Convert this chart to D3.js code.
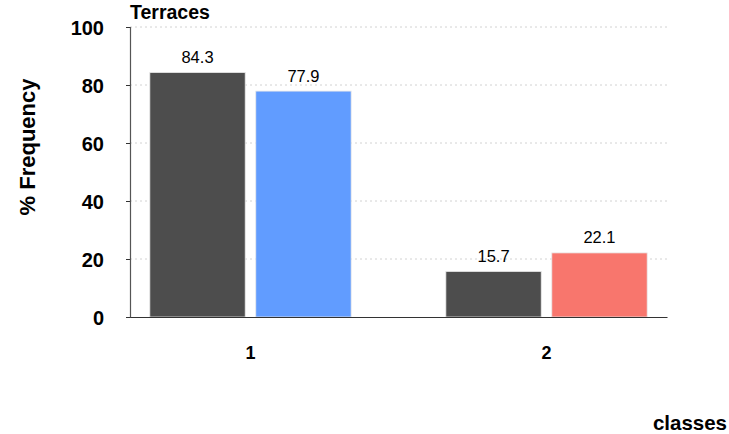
<!DOCTYPE html>
<meta charset="utf-8">
<script src="https://d3js.org/d3.v7.min.js"></script>
<style>
body { margin: 0; background: #fff; }
text { font-family: "Liberation Sans", Arial, sans-serif; }
.grid line { stroke: #d2d2d2; stroke-dasharray: 2,3; }
</style>
<body></body>
<script>

var classes = ["1", "2"];
var series = ["a", "b"];
var values = [[84.3, 77.9], [15.7, 22.1]];
var colors = [["#4d4d4d", "#619cff"], ["#4d4d4d", "#f8766d"]];
var yTicks = [0, 20, 40, 60, 80, 100];

var margin = {top: 27, right: 62, bottom: 117, left: 130};
var width = 729 - margin.left - margin.right,
    height = 434 - margin.top - margin.bottom;

var svg = d3.select('body').append('svg')
  .attr('width', 729)
  .attr('height', 434);

var g = svg.append('g')
  .attr('transform', 'translate(' + margin.left + ',' + margin.top + ')');

var x0 = d3.scaleBand().domain(classes).range([0, width])
  .paddingInner(0.32).paddingOuter(0.067);
var x1 = d3.scaleBand().domain(series).range([0, x0.bandwidth()]).paddingInner(0.1);
var y = d3.scaleLinear().domain([0, 100]).range([height, 0]);

// gridlines
g.append('g').attr('class', 'grid')
  .selectAll('line').data(yTicks.slice(1)).enter().append('line')
  .attr('x1', 0).attr('x2', width)
  .attr('y1', function(d) { return y(d); })
  .attr('y2', function(d) { return y(d); });

// bars
var groups = g.selectAll('.cls').data(classes).enter().append('g')
  .attr('class', 'cls')
  .attr('transform', function(d) { return 'translate(' + x0(d) + ',0)'; });

groups.each(function(c, i) {
  var grp = d3.select(this);
  var rows = series.map(function(s, j) { return {s: s, v: values[i][j], c: colors[i][j]}; });
  grp.selectAll('rect').data(rows).enter().append('rect')
    .attr('x', function(d) { return x1(d.s); })
    .attr('width', x1.bandwidth())
    .attr('y', function(d) { return y(d.v); })
    .attr('height', function(d) { return height - y(d.v); })
    .attr('fill', function(d) { return d.c; })
    .attr('stroke', '#e8e8e8')
    .attr('stroke-width', 0.8);
  grp.selectAll('.lbl').data(rows).enter().append('text')
    .attr('class', 'lbl')
    .attr('x', function(d) { return x1(d.s) + x1.bandwidth() / 2; })
    .attr('y', function(d) { return y(d.v) - 9.5; })
    .attr('text-anchor', 'middle')
    .style('font-size', '16.5px')
    .text(function(d) { return d.v.toFixed(1); });
});

// axes
var yAxis = g.append('g')
  .call(d3.axisLeft(y).tickValues(yTicks).tickSize(4).tickPadding(22));
yAxis.select('.domain').attr('stroke', '#555').attr('stroke-width', 1.2);
yAxis.selectAll('.tick line').attr('stroke', '#333');
yAxis.selectAll('text').style('font-size', '20px').style('font-weight', 'bold')
  .attr('fill', '#000').attr('dy', '0.35em');

var xAxis = g.append('g')
  .attr('transform', 'translate(0,' + height + ')')
  .call(d3.axisBottom(x0).tickSize(0).tickPadding(29));
xAxis.select('.domain').attr('stroke', '#333').attr('stroke-width', 1.2);
xAxis.selectAll('text').style('font-size', '18px').style('font-weight', 'bold')
  .attr('fill', '#000');

// titles
svg.append('text')
  .attr('x', 130).attr('y', 19)
  .style('font-size', '19.5px').style('font-weight', 'bold')
  .text('Terraces');

svg.append('text')
  .attr('transform', 'translate(35,147) rotate(-90)')
  .attr('text-anchor', 'middle')
  .style('font-size', '22px').style('font-weight', 'bold')
  .text('% Frequency');

svg.append('text')
  .attr('x', 727).attr('y', 430)
  .attr('text-anchor', 'end')
  .style('font-size', '20.5px').style('font-weight', 'bold')
  .text('classes');

</script>
